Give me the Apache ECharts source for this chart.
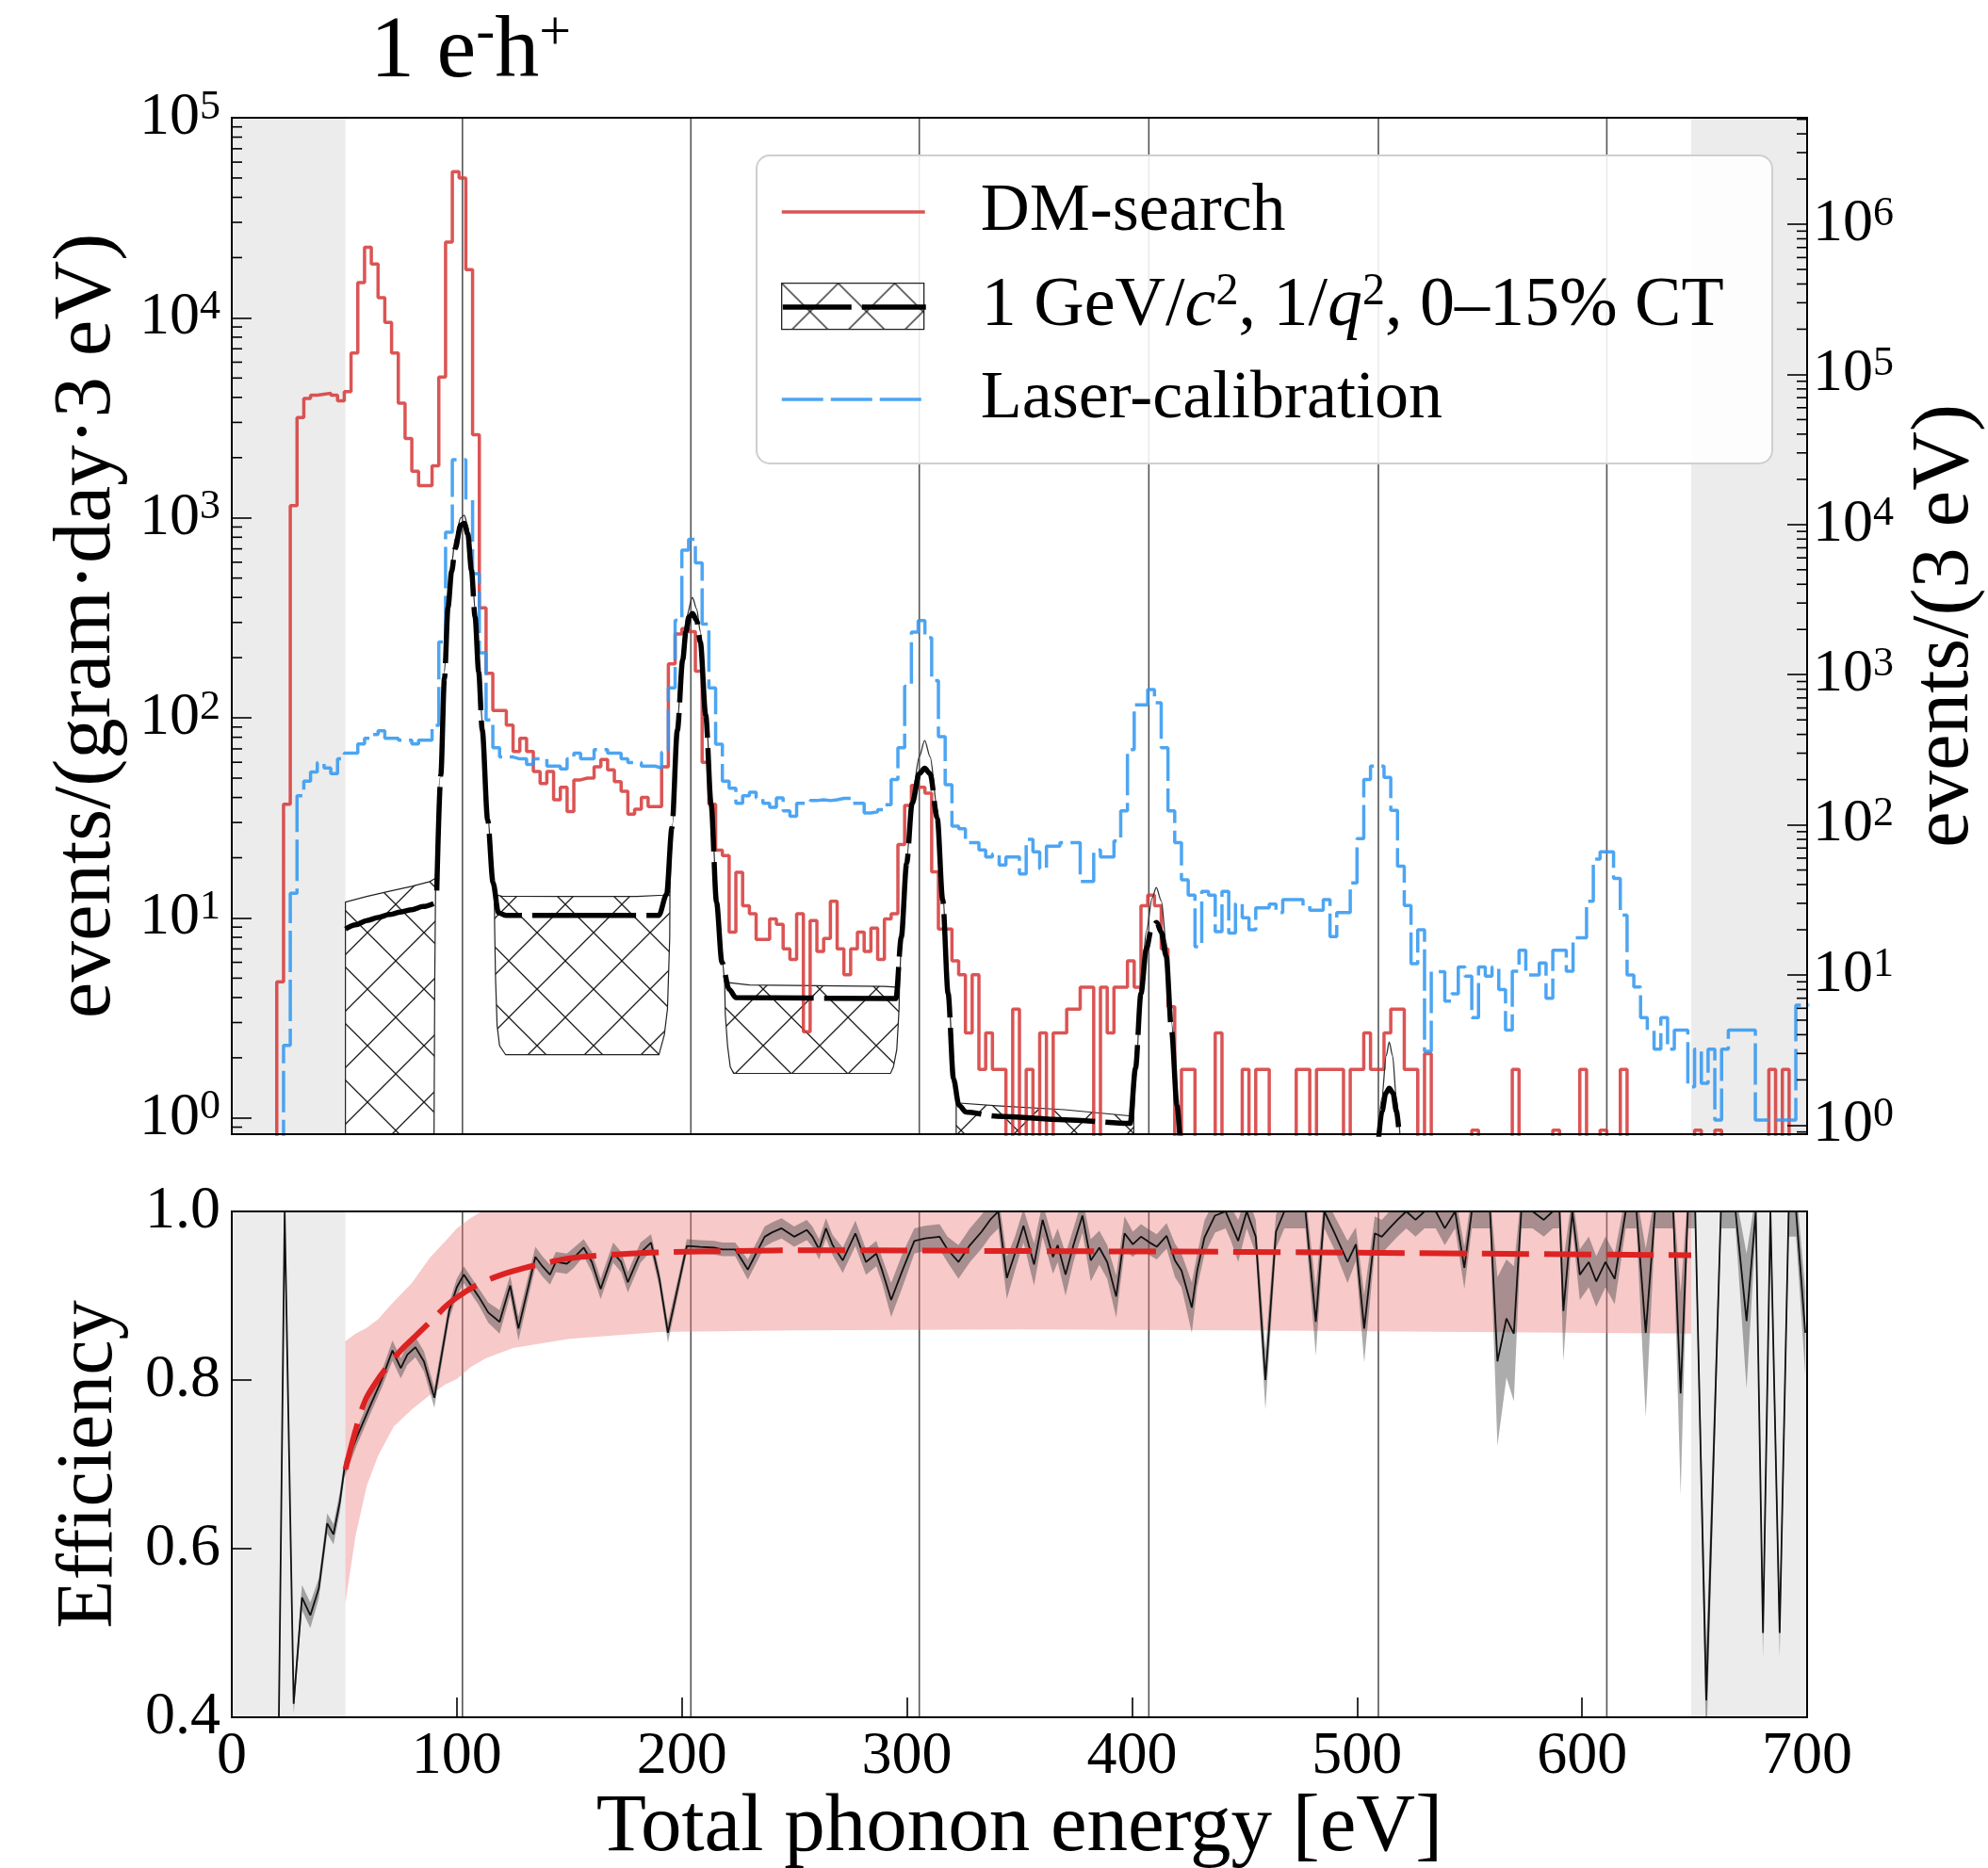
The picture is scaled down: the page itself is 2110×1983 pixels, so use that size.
<!DOCTYPE html>
<html><head><meta charset="utf-8">
<script src="https://cdn.jsdelivr.net/npm/echarts@6/dist/echarts.min.js"></script>
<style>html,body{margin:0;padding:0;background:#fff;}#c{width:2110px;height:1983px;}</style>
</head><body><div id="c"></div>
<script>
const FONT = '"Liberation Serif", "Times New Roman", serif';

// ---------------- DATA ----------------
const binWidth = 3;               // eV per histogram bin
const dmName = 'DM-search';
const modelName = '1 GeV/c², 1/q², 0–15% CT';
const laserName = 'Laser-calibration';

// DM-search histogram, events/(gram·day·3 eV), bins start at dmStart
const dmStart = 17;
const dmSearch = [
  0, 4.8, 37, 1150, 3170, 3950, 4100, 4150, 4200, 4100,
  3850, 4280, 6660, 15000, 22500, 18600, 12600, 9480, 6660, 3740,
  2490, 1710, 1450, 1450, 1820, 5050, 23900, 53700, 50000, 17400,
  2600, 355, 167, 109, 109, 92, 68, 79, 68, 54,
  47, 54, 39, 45, 34, 49, 50, 50, 57, 62,
  55, 48, 43, 33, 35, 40, 36, 36, 57, 186,
  263, 280, 270, 171, 60, 37, 21.8, 20.5, 8.5, 16.9,
  11.5, 10.5, 7.8, 7.8, 9.9, 9.3, 7.0, 6.2, 10.5, 2.7,
  9.7, 6.8, 7.9, 12.1, 7.0, 5.2, 7.0, 8.5, 6.8, 8.9,
  6.2, 9.9, 10.5, 23.3, 36.5, 46, 45, 42, 17, 8.8,
  8.8, 6.1, 5.2, 2.66, 5.2, 1.75, 2.66, 1.75, 1.75, 0,
  3.5, 0, 1.75, 0, 2.66, 0, 2.66, 2.66, 3.5, 3.5,
  4.5, 4.5, 0, 4.5, 2.66, 4.5, 4.5, 6.1, 4.5, 11.5,
  13, 11.5, 7.0, 3.6, 0, 1.75, 1.75, 0, 0, 0,
  2.66, 0, 0, 0, 1.75, 0, 1.75, 1.75, 0, 0,
  0, 0, 1.75, 1.75, 0, 1.75, 1.75, 1.75, 1.75, 0,
  1.75, 1.75, 2.66, 1.75, 1.75, 2.66, 3.5, 3.5, 1.75, 1.75,
  0, 2.1, 0, 0, 0, 0, 0, 0, 0.87, 0,
  0, 0, 0, 0, 1.75, 0, 0, 0, 0, 0,
  0.87, 0, 0, 0, 1.75, 0, 0, 0.87, 0, 0,
  1.75, 0, 0, 0, 0, 0, 0, 0, 0, 0,
  0, 0.87, 0, 0, 0.87, 0, 0, 0, 0, 0,
  0, 0, 1.75, 0, 1.75, 0, 0, 0
];

// Laser-calibration histogram, events/(3 eV) (right axis), bins start at laserStart
const laserStart = 20;
const laserCal = [
  0, 3.4, 35, 156, 195, 225, 260, 239, 219, 275,
  300, 300, 346, 377, 399, 423, 377, 377, 366, 366,
  346, 366, 366, 460, 1650, 8900, 27000, 27000, 14600, 4700,
  1400, 500, 326, 283, 283, 275, 275, 252, 275, 275,
  246, 246, 236, 275, 300, 275, 275, 317, 317, 300,
  300, 275, 260, 260, 246, 246, 239, 305, 815, 2300,
  6760, 7960, 5560, 2170, 815, 344, 195, 175, 139, 156,
  165, 151, 139, 131, 151, 124, 114, 139, 139, 145,
  147, 145, 147, 150, 150, 139, 139, 120, 122, 126,
  136, 200, 326, 837, 1920, 2290, 1760, 912, 387, 185,
  98, 94, 76, 76, 68, 61, 64, 54, 61, 61,
  47, 80, 66, 51, 72, 72, 76, 76, 76, 42,
  42, 68, 61, 61, 78, 124, 317, 630, 630, 795,
  650, 326, 124, 76, 43, 34, 15.4, 36, 34, 19.4,
  36, 19, 30, 24, 20, 28, 28, 29.6, 26, 31.8,
  31.8, 31.8, 29, 27, 27, 31.8, 18, 26, 26, 41,
  81, 200, 246, 246, 207, 125, 53, 29, 11.9, 20,
  3.1, 10.5, 10.5, 6.7, 7.5, 11.3, 9.8, 5.2, 11.3, 9.8,
  11.3, 8, 4.3, 10.6, 14.6, 10, 10, 12, 7, 14.6,
  14.6, 10.6, 17.7, 17.7, 31, 59, 66, 66, 44, 25,
  10, 8.3, 5.2, 4.3, 3.2, 5.2, 3.2, 4.3, 4.3, 1.8,
  3.2, 1.9, 3.2, 1.08, 3.2, 4.3, 4.3, 4.3, 4.3, 1.08,
  1.08, 1.08, 1.08, 1.08, 1.08, 6.3, 6.3
];

// Signal model (thick dashed line), [energy eV, events/(gram·day·3 eV)]
const modelSegA = [[50.5, 8.8], [55, 9.25], [60, 9.7], [65, 10.05], [70, 10.4], [75, 10.7], [80, 11.0], [85, 11.4], [89.7, 11.8]];
const modelMain = [[91.1, 13.7], [92.9, 52], [94.5, 158], [96.1, 358], [97.7, 540], [99.3, 703], [101.7, 920], [103.3, 940],
  [104.9, 830], [106.5, 548], [108.1, 320], [109.7, 170], [111.3, 87], [113.7, 31], [116.1, 15], [118.5, 10.6], [122, 10.3],
  [189.8, 10.3], [193.2, 13.1], [195.6, 28.4], [198, 86.6], [200.4, 196], [201.8, 270], [203.3, 320], [204.7, 333], [206.6, 307],
  [208.2, 240], [210.6, 103], [213, 37], [215.4, 12], [217.8, 6.0], [221, 4.4], [224, 4.0], [295.1, 3.95], [297.5, 8.0],
  [299.9, 18.8], [302.3, 37.3], [305.5, 52.6], [307.9, 56], [310.3, 52.6], [313.5, 31.5], [315.9, 12.3], [318.3, 4.2],
  [320.7, 1.57], [323.1, 1.16], [326.3, 1.07], [340, 1.02], [370, 0.98], [399.2, 0.94], [401.6, 1.78], [404, 4.2],
  [406.4, 7.0], [408.8, 9.0], [411, 9.5], [413, 8.5], [415.2, 6.45], [417.6, 2.73], [420, 1.16], [421.6, 0.7]];
const modelPeak5 = [[509.2, 0.7], [511.1, 1.08], [512.8, 1.33], [514.3, 1.41], [516, 1.33], [517.5, 1.08], [519.3, 0.7]];

// Thin outer outlines of the model band at the peaks
const outlinePeak1 = [[90.6, 15.8], [92.5, 50], [94.5, 170], [96.1, 390], [97.7, 590], [99.3, 790], [101.7, 1000], [103.3, 1030],
  [104.9, 910], [106.5, 600], [108.1, 350], [109.7, 190], [111.3, 95], [113.7, 33], [116, 16], [116.7, 13.1]];
const outlinePeak2 = [[194.7, 13.5], [196, 30], [198, 95], [200.4, 215], [202, 320], [204.7, 400], [206.6, 350], [208.2, 270],
  [210.6, 115], [213, 40], [215.4, 13.5], [217.5, 6.5], [219, 4.78]];
const outlinePeak3 = [[296.7, 4.5], [298, 9], [300, 20], [302.3, 40], [305.5, 64], [307.9, 77], [310.3, 64], [313.5, 35],
  [315.9, 13.5], [318.3, 4.6], [320.7, 1.75], [321.9, 1.19]];
const outlinePeak4 = [[400.8, 1.02], [402, 1.9], [404, 4.6], [406.4, 8.6], [409, 12.6], [410.8, 14.2], [413, 12.2], [415.2, 7.6],
  [417.6, 3.0], [420, 1.25], [421.5, 0.7]];
const outlinePeak5 = [[509, 0.7], [511, 1.25], [513, 2.05], [514.3, 2.4], [515.8, 2.05], [517.5, 1.25], [519.5, 0.7]];

// Hatched model band between peaks: upper edge (left->right), lower edge (right->left)
const bandAUpper = [[50.5, 12.0], [60, 12.8], [70, 13.6], [80, 14.4], [88, 15.2], [90.6, 15.8]];
const bandALower = [[90.2, 5], [89.7, 0.3], [50.5, 0.3]];
const bandBUpper = [[116.7, 13.1], [120, 12.85], [150, 12.8], [180, 12.8], [192, 13.0], [194.7, 13.5]];
const bandBLower = [[194.6, 8], [193.6, 3.5], [192.2, 2.6], [189.8, 2.07], [121.7, 2.07], [119, 2.3], [117.9, 2.9], [117.2, 5], [116.8, 9]];
const bandCUpper = [[219, 4.78], [230, 4.62], [260, 4.58], [290, 4.55], [296.7, 4.5]];
const bandCLower = [[296.5, 3.5], [295.5, 2.2], [294, 1.8], [292.7, 1.67], [223, 1.67], [221.5, 1.8], [220.3, 2.3], [219.3, 3.3]];
const bandDUpper = [[321.9, 1.19], [340, 1.15], [370, 1.10], [400.8, 1.02]];
const bandDLower = [[400.8, 0.3], [321.9, 0.3]];

// Reference lines and excluded regions (eV)
const peakLines = [102.5, 204, 305.5, 407.5, 509.5, 611];
const grayRegions = [[0, 50.5], [648.5, 700]];

// Efficiency: [energy, efficiency, half-width of uncertainty]
const efficiencyPoints = [
  [20.5, 0.30, 0.01], [23.5, 1.0, 0.01], [27.5, 0.416, 0.012], [31.2, 0.542, 0.015], [34.9, 0.521, 0.015], [38.7, 0.553, 0.012],
  [42.4, 0.630, 0.012], [45.2, 0.617, 0.012], [48, 0.655, 0.012], [50, 0.694, 0.01], [55.5, 0.732, 0.01], [61.1, 0.767, 0.01],
  [66.7, 0.801, 0.01], [71.4, 0.835, 0.012], [75.1, 0.814, 0.012], [78, 0.83, 0.012], [81.6, 0.839, 0.012], [85.4, 0.822, 0.012],
  [90, 0.779, 0.012], [96.6, 0.882, 0.01], [100, 0.91, 0.01], [103.1, 0.925, 0.01], [109.7, 0.899, 0.01], [114, 0.88, 0.012],
  [119, 0.869, 0.014], [123.7, 0.912, 0.012], [127.4, 0.861, 0.014], [134.9, 0.946, 0.012], [138, 0.935, 0.012], [141.4, 0.925, 0.012],
  [144, 0.94, 0.012], [148.9, 0.938, 0.012], [152, 0.945, 0.012], [156.4, 0.957, 0.01], [160, 0.94, 0.012], [163.9, 0.908, 0.012],
  [169.5, 0.951, 0.012], [173, 0.94, 0.012], [176, 0.916, 0.012], [181.6, 0.951, 0.012], [186.3, 0.963, 0.01], [190, 0.92, 0.01],
  [193.8, 0.856, 0.012], [202.2, 0.959, 0.008], [208, 0.958, 0.008], [214.3, 0.957, 0.008], [218, 0.955, 0.008], [223.7, 0.955, 0.008],
  [229.3, 0.931, 0.012], [236.8, 0.970, 0.012], [240, 0.975, 0.012], [244.3, 0.980, 0.012], [249.9, 0.970, 0.012], [255.5, 0.978, 0.012],
  [258, 0.970, 0.012], [261, 0.955, 0.012], [264, 0.980, 0.012], [267, 0.960, 0.012], [271.5, 0.942, 0.015], [277.1, 0.974, 0.015],
  [281.8, 0.940, 0.015], [286.4, 0.950, 0.015], [289, 0.930, 0.015], [293, 0.895, 0.02], [298, 0.930, 0.02], [303.3, 0.965, 0.015],
  [308, 0.968, 0.015], [314.5, 0.970, 0.015], [318, 0.955, 0.015], [322.9, 0.940, 0.02], [328, 0.960, 0.02], [333.2, 0.976, 0.02],
  [337, 0.990, 0.02], [340.6, 1.0, 0.02], [344.4, 0.921, 0.025], [348, 0.950, 0.02], [351.8, 0.983, 0.02], [356.5, 0.937, 0.025],
  [360.3, 0.990, 0.02], [364.9, 0.946, 0.02], [367, 0.960, 0.02], [370.5, 0.925, 0.025], [374, 0.960, 0.02], [378, 0.995, 0.02],
  [381.7, 0.942, 0.025], [385.5, 0.957, 0.02], [389, 0.940, 0.02], [393, 0.899, 0.025], [396.7, 0.974, 0.02], [400.4, 0.961, 0.015],
  [404, 0.970, 0.015], [407.9, 0.963, 0.015], [411, 0.958, 0.015], [415.4, 0.971, 0.015], [419.1, 0.942, 0.02], [422, 0.930, 0.02],
  [426.6, 0.886, 0.03], [429, 0.930, 0.02], [432.2, 0.969, 0.02], [436.9, 0.995, 0.02], [441.6, 1.0, 0.02], [444, 0.985, 0.02],
  [447.2, 0.965, 0.025], [451, 1.0, 0.02], [455, 0.970, 0.02], [459.3, 0.800, 0.035], [464, 0.976, 0.02], [467.7, 1.0, 0.02],
  [472, 1.0, 0.02], [477.1, 1.0, 0.02], [481.7, 0.869, 0.04], [485.5, 1.0, 0.02], [490.1, 0.974, 0.02], [495.8, 0.940, 0.025],
  [499.5, 0.961, 0.02], [503.2, 0.861, 0.04], [507.9, 0.974, 0.02], [511, 0.970, 0.02], [514.4, 0.980, 0.02], [518, 0.990, 0.02],
  [521.9, 1.0, 0.02], [526, 0.99, 0.02], [530, 1.0, 0.02], [535, 1.0, 0.02], [539, 0.98, 0.02], [543.6, 1.0, 0.02],
  [547.7, 0.933, 0.025], [551, 1.0, 0.02], [555, 1.0, 0.02], [559.1, 1.0, 0.02], [562.4, 0.822, 0.10], [566.4, 0.873, 0.07],
  [569.7, 0.855, 0.08], [573, 1.0, 0.02], [578, 1.0, 0.02], [583, 0.99, 0.02], [587, 1.0, 0.02], [590, 1.0, 0.02],
  [591.7, 0.882, 0.06], [595.7, 1.0, 0.02], [599, 0.925, 0.03], [603, 0.940, 0.03], [606.3, 0.917, 0.03], [610.4, 0.940, 0.03],
  [614.5, 0.920, 0.03], [619.4, 1.0, 0.02], [624.2, 1.0, 0.02], [628.3, 0.856, 0.10], [632.4, 1.0, 0.02], [636, 1.0, 0.02],
  [640.5, 1.0, 0.02], [643.8, 0.784, 0.12], [647, 1.0, 0.02], [650.3, 1.0, 0.02], [655.2, 0.42, 0.06], [661.7, 1.0, 0.02],
  [668.2, 1.0, 0.02], [673.1, 0.870, 0.08], [677.2, 1.0, 0.02], [680.4, 0.50, 0.03], [683.7, 1.0, 0.03], [687.8, 0.50, 0.03],
  [691.8, 1.0, 0.03], [695.1, 1.0, 0.03], [699.2, 0.856, 0.05]
];

// Fitted efficiency (red dashed) and its band
const fitEnergy = [50.5, 55, 59.2, 64, 68.6, 75, 81.6, 90, 96.6, 104, 111.6, 120, 130.2, 140, 148.9, 165, 186.3, 220, 261, 350, 450, 550, 648.5];
const fitEff = [0.694, 0.74, 0.775, 0.797, 0.814, 0.835, 0.852, 0.874, 0.891, 0.905, 0.916, 0.925, 0.933, 0.939, 0.944, 0.948, 0.951, 0.953, 0.954, 0.953, 0.952, 0.950, 0.948];
const fitBandEnergy = [50.5, 55, 60, 65, 72, 80, 88, 95, 100, 106, 113, 125, 150, 190, 250, 350, 450, 550, 648.5];
const fitBandUpper = [0.846, 0.855, 0.862, 0.872, 0.893, 0.915, 0.945, 0.965, 0.980, 0.992, 1.003, 1.02, 1.04, 1.05, 1.05, 1.05, 1.05, 1.05, 1.05];
const fitBandLower = [0.536, 0.615, 0.675, 0.71, 0.745, 0.765, 0.782, 0.795, 0.801, 0.815, 0.826, 0.838, 0.849, 0.857, 0.859, 0.86, 0.859, 0.857, 0.855];

// Axis settings
const xTicks = [0, 100, 200, 300, 400, 500, 600, 700];
const leftLogRange = [0.83, 1e5];
const rightLogRange = [0.87, 5.12e6];
const effRange = [0.4, 1.0];

// --------------- helpers ---------------
const zeroFloor = 0.3;  // empty bins drawn below the axis floor
function stepPoints(start, vals) {
  const pts = vals.map((v, i) => [start + i * binWidth, v > 0 ? v : zeroFloor]);
  const last = vals[vals.length - 1];
  pts.push([start + vals.length * binWidth, last > 0 ? last : zeroFloor]);
  return pts;
}
function minorTicks(maxExp, maxVal) {
  const out = [0.9];
  for (let e = 0; e <= maxExp; e++) for (let m = 2; m <= 9; m++) { const v = m * Math.pow(10, e); if (v < maxVal) out.push(v); }
  return out;
}
function powLabel(v) {
  const l = Math.log10(v), n = Math.round(l);
  if (Math.abs(l - n) > 1e-4) return '';
  return '{b|10}{s|' + n + '}';
}
const powRich = {
  b: {fontSize: 64, fontFamily: FONT, color: '#000', lineHeight: 66},
  s: {fontSize: 44, fontFamily: FONT, color: '#000', verticalAlign: 'top', lineHeight: 30}
};
function makeHatch() {
  const c = document.createElement('canvas'); c.width = 60; c.height = 60;
  const g = c.getContext('2d'); g.strokeStyle = '#1a1a1a'; g.lineWidth = 1.3;
  g.beginPath(); g.moveTo(-6, -6); g.lineTo(66, 66); g.moveTo(66, -6); g.lineTo(-6, 66); g.stroke();
  return c;
}
const hatch = {image: makeHatch(), repeat: 'repeat'};

const bands = [[bandAUpper, bandALower], [bandBUpper, bandBLower], [bandCUpper, bandCLower], [bandDUpper, bandDLower]];

function regionSeries(xi, yi, yRef) {
  return {type: 'custom', xAxisIndex: xi, yAxisIndex: yi, z: 0, silent: true, clip: true,
    data: grayRegions.map(r => [r[0], yRef, r[1]]), encode: {x: 0, y: 1},
    renderItem: (params, api) => {
      const cs = params.coordSys;
      const x0 = api.coord([api.value(0), api.value(1)])[0];
      const x1 = api.coord([api.value(2), api.value(1)])[0];
      return {type: 'rect', shape: {x: x0, y: cs.y, width: x1 - x0, height: cs.height}, style: {fill: '#ececec'}};
    }};
}
function vlineSeries(xi, yi, yRef) {
  return {type: 'custom', xAxisIndex: xi, yAxisIndex: yi, z: 1, silent: true, clip: true,
    data: peakLines.map(x => [x, yRef]), encode: {x: 0, y: 1},
    renderItem: (params, api) => {
      const cs = params.coordSys;
      const px = api.coord([api.value(0), api.value(1)])[0];
      return {type: 'line', shape: {x1: px, y1: cs.y, x2: px, y2: cs.y + cs.height}, style: {stroke: '#555', lineWidth: 1.6}};
    }};
}
function minorTickSeries(yi, xEdge, vals, dir) {
  return {type: 'custom', xAxisIndex: 0, yAxisIndex: yi, z: 11, silent: true, clip: false,
    data: vals.map(v => [xEdge, v]), encode: {x: 0, y: 1},
    renderItem: (params, api) => {
      const p = api.coord([api.value(0), api.value(1)]);
      return {type: 'line', shape: {x1: p[0], y1: p[1], x2: p[0] + dir * 11, y2: p[1]}, style: {stroke: '#000', lineWidth: 1.6}};
    }};
}
function thickModel(data) {
  return {name: modelName, type: 'line', xAxisIndex: 0, yAxisIndex: 0, z: 6, data: data, symbol: 'none', smooth: 0.3, smoothMonotone: 'x',
    lineStyle: {color: '#000', width: 5.5, type: [110, 11]}, itemStyle: {color: '#000'}, silent: true};
}
function outline(data) {
  return {type: 'line', xAxisIndex: 0, yAxisIndex: 0, z: 5, data: data, symbol: 'none', smooth: 0.3, smoothMonotone: 'x',
    lineStyle: {color: '#333', width: 1.3}, silent: true};
}

const legendBase = {orient: 'horizontal', left: 828, padding: 0, itemWidth: 152, itemHeight: 40, itemGap: 0,
  selectedMode: false, z: 12, itemStyle: {opacity: 0}};
const legendText = {fontSize: 72, fontFamily: FONT, color: '#000', lineHeight: 80, padding: [0, 0, 0, 54]};

const option = {
  backgroundColor: '#fff',
  animation: false,
  title: {
    left: 393, top: 6, padding: 0,
    text: '{a|1 e}{s|-}{a|h}{s|+}',
    textStyle: {fontWeight: 'normal', rich: {
      a: {fontSize: 94, fontFamily: FONT, fontWeight: 'normal', color: '#000', lineHeight: 100},
      s: {fontSize: 60, fontFamily: FONT, fontWeight: 'normal', color: '#000', verticalAlign: 'top', lineHeight: 62}
    }}
  },
  legend: [
    Object.assign({}, legendBase, {top: 185, data: [dmName], lineStyle: {width: 3.5}, textStyle: legendText}),
    Object.assign({}, legendBase, {top: 286, data: [modelName], lineStyle: {width: 5.5, type: [73, 11]},
      formatter: () => '{n|1 GeV/}{i|c}{s|2}{n|, 1/}{i|q}{s|2}{n|, 0–15% CT}',
      textStyle: Object.assign({}, legendText, {rich: {
        n: {fontSize: 74, fontFamily: FONT, color: '#000', lineHeight: 80},
        i: {fontSize: 74, fontFamily: FONT, color: '#000', fontStyle: 'italic', lineHeight: 80},
        s: {fontSize: 48, fontFamily: FONT, color: '#000', verticalAlign: 'top', lineHeight: 56}
      }})}),
    Object.assign({}, legendBase, {top: 384, data: [laserName], lineStyle: {width: 3.5}, textStyle: legendText})
  ],
  graphic: [
    {type: 'rect', left: 802, top: 164, z: 8, silent: true, shape: {width: 1078, height: 327, r: 14},
      style: {fill: 'rgba(255,255,255,0.88)', stroke: '#cfcfcf', lineWidth: 2}},
    {type: 'rect', left: 829, top: 300, z: 9, silent: true, shape: {width: 151, height: 49},
      style: {fill: hatch, stroke: '#222', lineWidth: 1.3}}
  ],
  grid: [
    {left: 246, top: 125, width: 1672, height: 1079, show: true, borderColor: '#000', borderWidth: 2, z: 9,
      containLabel: false, outerBoundsMode: 'none'},
    {left: 246, top: 1286, width: 1672, height: 537, show: true, borderColor: '#000', borderWidth: 2, z: 9,
      containLabel: false, outerBoundsMode: 'none'}
  ],
  xAxis: [
    {gridIndex: 0, type: 'value', min: xTicks[0], max: xTicks[xTicks.length - 1], interval: 100, z: 10,
      axisLine: {show: true, lineStyle: {color: '#000', width: 2}}, axisTick: {show: false},
      axisLabel: {show: false}, splitLine: {show: false}},
    {gridIndex: 1, type: 'value', min: xTicks[0], max: xTicks[xTicks.length - 1], interval: 100, z: 10,
      axisLine: {show: true, lineStyle: {color: '#000', width: 2}},
      axisTick: {show: true, inside: true, length: 21, lineStyle: {color: '#000', width: 1.6}},
      axisLabel: {fontSize: 64, fontFamily: FONT, color: '#000', margin: 10},
      splitLine: {show: false},
      name: 'Total phonon energy [eV]', nameLocation: 'middle', nameGap: 62,
      nameTextStyle: {fontSize: 87, fontFamily: FONT, color: '#000'}}
  ],
  yAxis: [
    {gridIndex: 0, type: 'log', logBase: 10, min: leftLogRange[0], max: leftLogRange[1], position: 'left', z: 10,
      axisLine: {show: true, lineStyle: {color: '#000', width: 2}},
      axisTick: {show: true, inside: true, length: 21, lineStyle: {color: '#000', width: 1.6}},
      axisLabel: {formatter: powLabel, rich: powRich, margin: 12}, splitLine: {show: false}, minorTick: {show: false},
      name: 'events/(gram\u00b7day\u00b73 eV)', nameLocation: 'middle', nameGap: 98,
      nameTextStyle: {fontSize: 87, fontFamily: FONT, color: '#000'}},
    {gridIndex: 0, type: 'log', logBase: 10, min: rightLogRange[0], max: rightLogRange[1], position: 'right', splitNumber: 7, z: 10,
      axisLine: {show: true, lineStyle: {color: '#000', width: 2}},
      axisTick: {show: true, inside: true, length: 21, lineStyle: {color: '#000', width: 1.6}},
      axisLabel: {formatter: powLabel, rich: powRich, margin: 6}, splitLine: {show: false},
      name: 'events/(3 eV)', nameLocation: 'middle', nameGap: 104, nameRotate: 90,
      nameTextStyle: {fontSize: 87, fontFamily: FONT, color: '#000'}},
    {gridIndex: 1, type: 'value', min: effRange[0], max: effRange[1], interval: 0.2, z: 10,
      axisLine: {show: true, lineStyle: {color: '#000', width: 2}},
      axisTick: {show: true, inside: true, length: 21, lineStyle: {color: '#000', width: 1.6}},
      axisLabel: {fontSize: 64, fontFamily: FONT, color: '#000', margin: 12, formatter: v => v.toFixed(1)},
      splitLine: {show: false},
      name: 'Efficiency', nameLocation: 'middle', nameGap: 108,
      nameTextStyle: {fontSize: 84, fontFamily: FONT, color: '#000'}}
  ],
  series: [
    // ---- top panel ----
    regionSeries(0, 0, 1),
    vlineSeries(0, 0, 1),
    {type: 'custom', xAxisIndex: 0, yAxisIndex: 0, z: 2, silent: true, clip: true,
      data: bands.map(b => b[0][0]), encode: {x: 0, y: 1},
      renderItem: (params, api) => {
        const seg = bands[params.dataIndex];
        const pts = seg[0].concat(seg[1]).map(p => api.coord(p));
        return {type: 'polygon', shape: {points: pts}, style: {fill: hatch, stroke: '#222', lineWidth: 1.2}};
      }},
    {name: dmName, type: 'line', xAxisIndex: 0, yAxisIndex: 0, z: 3, step: 'end', symbol: 'none',
      data: stepPoints(dmStart, dmSearch), lineStyle: {color: 'rgba(214,60,60,0.88)', width: 3.5}, itemStyle: {color: 'rgba(214,60,60,0.88)'}, silent: true},
    {name: laserName, type: 'line', xAxisIndex: 0, yAxisIndex: 1, z: 4, step: 'end', symbol: 'none',
      data: stepPoints(laserStart, laserCal), lineStyle: {color: 'rgba(52,152,240,0.88)', width: 3.5, type: [44, 8]}, itemStyle: {color: 'rgba(52,152,240,0.88)'}, silent: true},
    outline(outlinePeak1), outline(outlinePeak2), outline(outlinePeak3), outline(outlinePeak4), outline(outlinePeak5),
    thickModel(modelMain), thickModel(modelSegA), thickModel(modelPeak5),
    minorTickSeries(0, 0, minorTicks(4, leftLogRange[1]), 1),
    minorTickSeries(1, 700, minorTicks(6, rightLogRange[1]), -1),
    // ---- bottom panel ----
    regionSeries(1, 2, 0.7),
    vlineSeries(1, 2, 0.7),
    {type: 'custom', xAxisIndex: 1, yAxisIndex: 2, z: 2, silent: true, clip: true,
      data: [[fitBandEnergy[0], fitBandLower[0]]], encode: {x: 0, y: 1},
      renderItem: (params, api) => {
        const up = fitBandEnergy.map((x, i) => api.coord([x, fitBandUpper[i]]));
        const lo = fitBandEnergy.map((x, i) => api.coord([x, fitBandLower[i]])).reverse();
        return {type: 'polygon', shape: {points: up.concat(lo)}, style: {fill: 'rgba(235,120,120,0.4)'}};
      }},
    {type: 'custom', xAxisIndex: 1, yAxisIndex: 2, z: 3, silent: true, clip: true,
      data: [[efficiencyPoints[0][0], efficiencyPoints[0][1]]], encode: {x: 0, y: 1},
      renderItem: (params, api) => {
        const up = efficiencyPoints.map(p => api.coord([p[0], p[1] + p[2]]));
        const lo = efficiencyPoints.map(p => api.coord([p[0], p[1] - p[2]])).reverse();
        return {type: 'polygon', shape: {points: up.concat(lo)}, style: {fill: 'rgba(70,70,70,0.45)'}};
      }},
    {type: 'line', xAxisIndex: 1, yAxisIndex: 2, z: 4, symbol: 'none', silent: true,
      data: efficiencyPoints.map(p => [p[0], p[1]]), lineStyle: {color: '#111', width: 1.8}},
    {type: 'line', xAxisIndex: 1, yAxisIndex: 2, z: 5, symbol: 'none', silent: true, smooth: 0.4,
      data: fitEnergy.map((x, i) => [x, fitEff[i]]), lineStyle: {color: '#dd2222', width: 6, type: [50, 16]}}
  ]
};

const chart = echarts.init(document.getElementById('c'), null, {renderer: 'canvas', width: 2110, height: 1983});
chart.setOption(option);
</script>
</body></html>
